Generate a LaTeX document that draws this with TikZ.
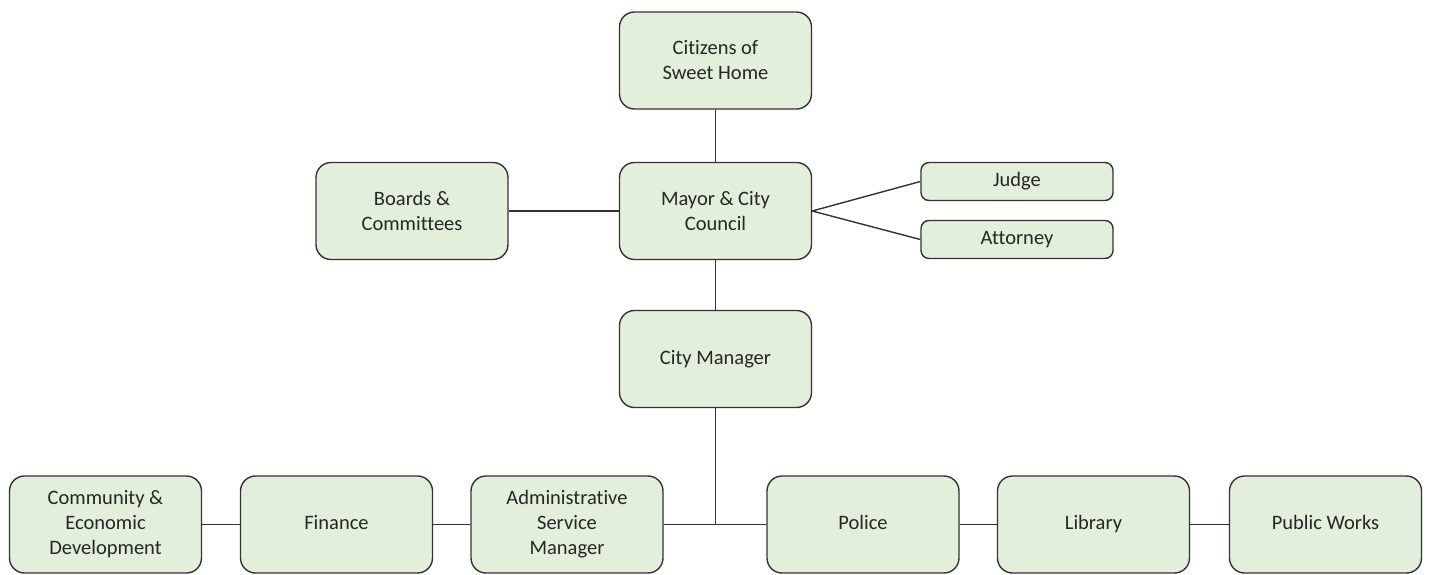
\documentclass[tikz,border=0pt]{standalone}
\usepackage{fontspec}
\setmainfont[Ligatures=NoCommon]{Carlito}
\definecolor{boxfill}{HTML}{E2EFDA}
\definecolor{boxline}{HTML}{333333}
\definecolor{txt}{HTML}{262626}
\begin{document}
\begin{tikzpicture}[x=1pt,y=-1pt,
  box/.style={draw=boxline, fill=boxfill, line width=1.4pt, rounded corners=15pt,
    minimum width=192pt, minimum height=97pt, inner sep=0pt, align=center,
    text=txt, font=\fontsize{20.5}{25}\selectfont},
  smallbox/.style={box, minimum height=38pt, rounded corners=8pt},
  conn/.style={draw=boxline, line width=1.4pt}]
\useasboundingbox (0,0) rectangle (1429,574);
\node[box] (cit) at (715.5,60.5) {Citizens of\\Sweet Home};
\node[box] (mayor) at (715.5,211) {Mayor \& City\\Council};
\node[box] (boards) at (412,211) {Boards \&\\Committees};
\node[smallbox] (judge) at (1017,181.5) {\strut Judge};
\node[smallbox] (att) at (1017,239.5) {\strut Attorney};
\node[box] (mgr) at (715.5,359) {\strut City Manager};
\node[box] (ced) at (105.5,524.5) {Community \&\\Economic\\Development};
\node[box] (fin) at (336.5,524.5) {\strut Finance};
\node[box] (adm) at (567,524.5) {Administrative\\Service\\Manager};
\node[box] (pol) at (863,524.5) {\strut Police};
\node[box] (lib) at (1093.5,524.5) {\strut Library};
\node[box] (pw) at (1325.5,524.5) {\strut Public Works};
\coordinate (bus) at (715.5,524.5);
\draw[conn] (cit) -- (mayor);
\draw[conn] (boards) -- (mayor);
\draw[conn] (mayor.east) -- (judge.west);
\draw[conn] (mayor.east) -- (att.west);
\draw[conn] (mayor) -- (mgr);
\draw[conn] (mgr) -- (bus);
\draw[conn] (adm.east) -- (bus) -- (pol.west);
\draw[conn] (ced) -- (fin);
\draw[conn] (fin) -- (adm);
\draw[conn] (pol) -- (lib);
\draw[conn] (lib) -- (pw);
\end{tikzpicture}
\end{document}
